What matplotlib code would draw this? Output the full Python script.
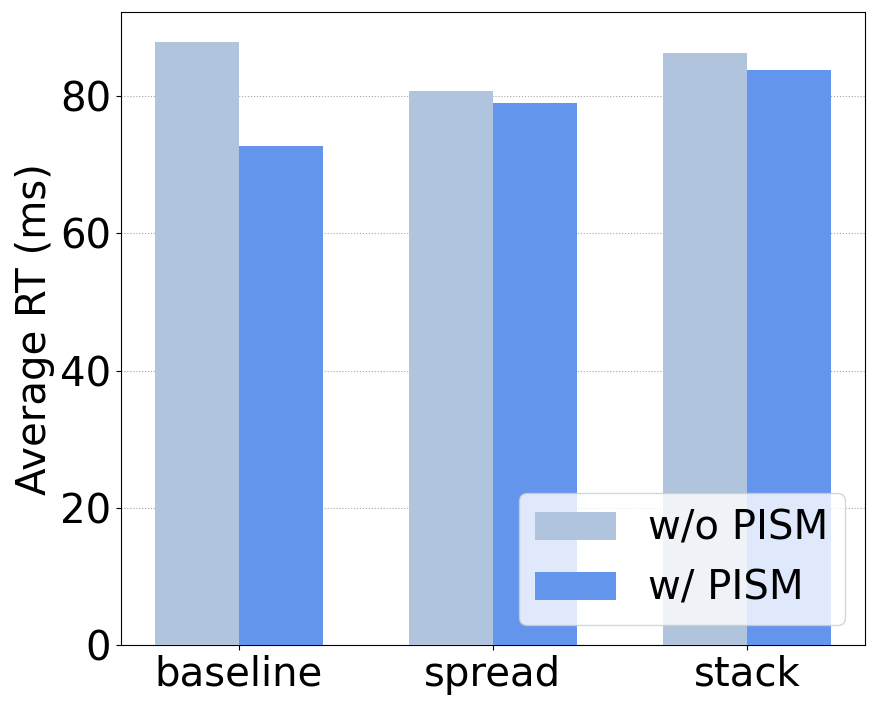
import matplotlib
matplotlib.use("Agg")
import matplotlib.pyplot as plt
import numpy as np

categories = ["baseline", "spread", "stack"]
without_pism = [87.85, 80.7, 86.25]
with_pism = [72.7, 79.0, 83.8]

x = np.arange(len(categories))
width = 0.33

fig, ax = plt.subplots(figsize=(8.77, 7.09), dpi=100)
ax.bar(x - width / 2, without_pism, width, color="lightsteelblue", label="w/o PISM", zorder=3)
ax.bar(x + width / 2, with_pism, width, color="cornflowerblue", label="w/ PISM", zorder=3)

ax.set_xticks(x)
ax.set_xticklabels(categories)
ax.set_ylabel("Average RT (ms)", fontsize=29)
ax.tick_params(axis="both", labelsize=29)
ax.yaxis.grid(True, linestyle=":", color="gray", alpha=0.7, zorder=0)
ax.legend(loc="lower right", fontsize=29)

fig.subplots_adjust(left=0.138, right=0.986, bottom=0.09, top=0.983)
fig.savefig("out.png")
